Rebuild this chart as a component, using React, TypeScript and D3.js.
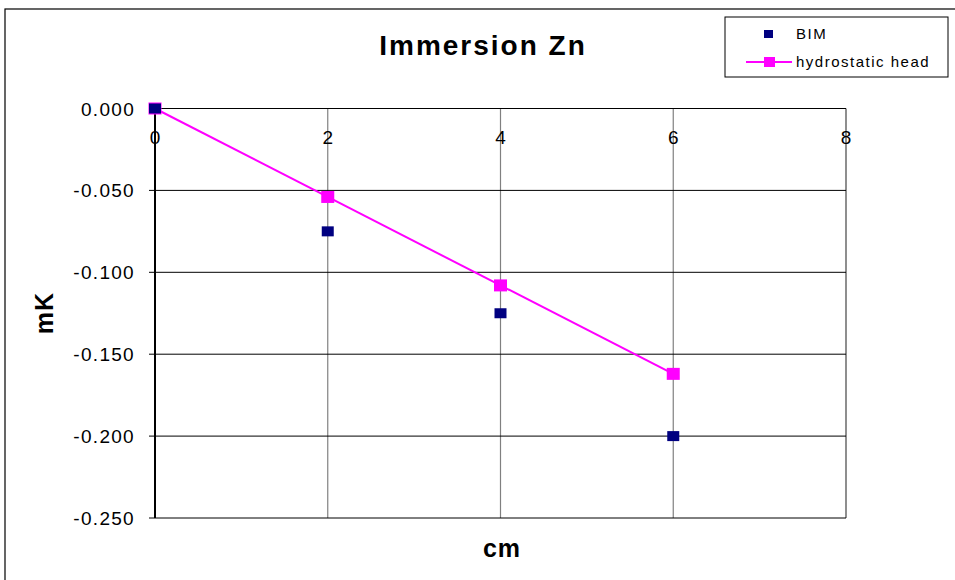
import React from "react";
import * as d3 from "d3";

const xTicks = [0, 2, 4, 6, 8];
const yTicks = [0, -0.05, -0.1, -0.15, -0.2, -0.25];
const bimX = [0, 2, 4, 6];
const bimY = [0, -0.075, -0.125, -0.2];
const hydroX = [0, 2, 4, 6];
const hydroY = [0, -0.054, -0.108, -0.162];

const W = 955;
const H = 580;
const left = 155, right = 846, top = 108.5, bottom = 518;

export default function App() {
  const x = d3.scaleLinear().domain([0, 8]).range([left, right]);
  const y = d3.scaleLinear().domain([0, -0.25]).range([top, bottom]);
  const line = d3.line<number>().x((_, i) => x(hydroX[i])).y((d) => y(d));
  const font = "'Liberation Sans', Arial, sans-serif";
  return (
    <svg width={W} height={H} style={{ position: "absolute", left: 0, top: 0 }} fontFamily={font}>
      <rect x={0} y={0} width={W} height={H} fill="#fff" />
      <rect x={5} y={9} width={W + 10} height={H + 10} fill="none" stroke="#000" strokeWidth={1.2} />
      <text x={483} y={55} textAnchor="middle" fontWeight="bold" fontSize={28} letterSpacing={2}>Immersion Zn</text>
      {xTicks.slice(1).map((t) => (
        <line key={"vx" + t} x1={x(t)} x2={x(t)} y1={top} y2={bottom} stroke={t === 8 ? "#444" : "#808080"} strokeWidth={1.2} />
      ))}
      {yTicks.map((t) => (
        <line key={"hy" + t} x1={left} x2={right} y1={y(t)} y2={y(t)} stroke="#000" strokeWidth={1} />
      ))}
      <line x1={left} x2={left} y1={top} y2={bottom} stroke="#000" strokeWidth={2} />
      {yTicks.map((t) => (
        <g key={"yt" + t}>
          <line x1={left - 6} x2={left} y1={y(t)} y2={y(t)} stroke="#000" />
          <text x={135} y={y(t) + 7} textAnchor="end" fontSize={19} letterSpacing={1.3}>{d3.format(".3f")(t).replace("−", "-")}</text>
        </g>
      ))}
      {xTicks.map((t) => (
        <text key={"xt" + t} x={x(t)} y={144} textAnchor="middle" fontSize={19}>{t}</text>
      ))}
      <path d={line(hydroY) || ""} fill="none" stroke="#ff00ff" strokeWidth={2} />
      {hydroY.map((v, i) => (
        <rect key={"h" + i} x={x(hydroX[i]) - 6.5} y={y(v) - 6} width={13} height={12} fill="#ff00ff" />
      ))}
      {bimY.map((v, i) => (
        <rect key={"b" + i} x={x(bimX[i]) - 6} y={y(v) - 5} width={12} height={10} fill="#000080" />
      ))}
      <text transform={`translate(53,313) rotate(-90)`} textAnchor="middle" fontWeight="bold" fontSize={25} letterSpacing={1}>mK</text>
      <text x={502} y={557} textAnchor="middle" fontWeight="bold" fontSize={25} letterSpacing={1}>cm</text>
      <rect x={725} y={17} width={223} height={60} fill="#fff" stroke="#000" strokeWidth={1} />
      <rect x={764} y={30} width={9} height={8} fill="#000080" />
      <text x={796} y={39} fontSize={15} letterSpacing={1.5}>BIM</text>
      <line x1={746} x2={792} y1={62} y2={62} stroke="#ff00ff" strokeWidth={2} />
      <rect x={764} y={57} width={11} height={10} fill="#ff00ff" />
      <text x={796} y={67} fontSize={15} letterSpacing={1.5}>hydrostatic head</text>
    </svg>
  );
}
